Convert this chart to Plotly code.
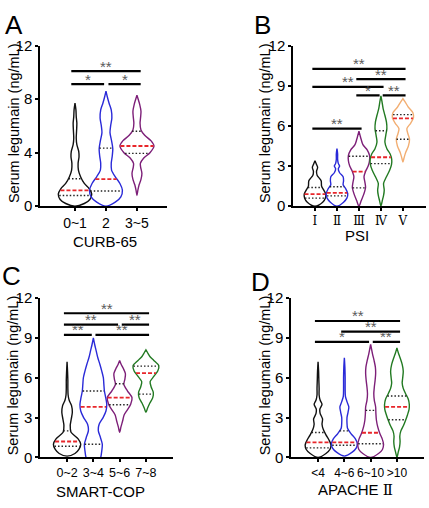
import numpy as np
import plotly.graph_objects as go

# ---- Panel A: CURB-65 ----
a_groups = ["0~1", "2", "3~5"]
a_colors = ["#111111", "#2a2ad8", "#7d1f78"]
a_y = [
    [0, 0.2, 0.5, 0.9, 1.3, 1.7, 2.2, 2.7, 3.2, 3.7, 4.1, 4.6, 5.1, 5.6, 6.2, 6.7, 7.2, 7.7],
    [0, 0.3, 0.7, 1.2, 1.7, 2.2, 2.7, 3.2, 3.7, 4.3, 4.9, 5.5, 6.0, 6.6, 7.2, 7.7, 8.2, 8.6],
    [0.8, 1.2, 1.6, 2.0, 2.45, 2.9, 3.2, 3.6, 4.0, 4.5, 4.9, 5.3, 5.7, 6.2, 6.7, 7.1, 7.6, 8.0, 8.3],
]
a_w = [
    [0, 0.3, 0.48, 0.54, 0.46, 0.3, 0.18, 0.11, 0.1, 0.13, 0.12, 0.06, 0.04, 0.05, 0.06, 0.04, 0.03, 0],
    [0, 0.3, 0.48, 0.53, 0.45, 0.3, 0.18, 0.17, 0.2, 0.22, 0.18, 0.13, 0.15, 0.19, 0.17, 0.1, 0.04, 0],
    [0, 0.03, 0.07, 0.13, 0.16, 0.12, 0.11, 0.22, 0.42, 0.55, 0.45, 0.25, 0.13, 0.1, 0.12, 0.13, 0.09, 0.04, 0],
]
a_q1 = [0.8, 1.13, 3.95]
a_med = [1.18, 2.02, 4.5]
a_q3 = [2.05, 4.34, 5.6]
a_sig = [(0, 1, 9.13, "*"), (1, 2, 9.13, "*"), (0, 2, 10.1, "**")]

# ---- Panel B: PSI ----
b_groups = ["Ⅰ", "Ⅱ", "Ⅲ", "Ⅳ", "Ⅴ"]
b_colors = ["#111111", "#2a2ad8", "#7d1f78", "#227a22", "#f2ae72"]
b_y = [
    [0, 0.3, 0.6, 0.9, 1.2, 1.5, 1.9, 2.3, 2.6, 2.9, 3.15, 3.4],
    [0, 0.3, 0.6, 0.95, 1.3, 1.6, 1.9, 2.2, 2.5, 2.8, 3.0, 3.2, 3.5, 3.9, 4.3],
    [0, 0.4, 0.9, 1.4, 1.8, 2.2, 2.6, 3.0, 3.4, 3.8, 4.2, 4.6, 5.0, 5.3, 5.6],
    [0, 0.4, 0.8, 1.2, 1.7, 2.2, 2.7, 3.1, 3.5, 3.9, 4.3, 4.8, 5.3, 5.8, 6.3, 6.8, 7.3, 7.8, 8.25],
    [3.3, 3.6, 4.0, 4.5, 5.0, 5.4, 5.8, 6.2, 6.6, 7.0, 7.4, 7.8, 8.05],
]
b_w = [
    [0, 0.35, 0.47, 0.49, 0.4, 0.3, 0.28, 0.1, 0.07, 0.12, 0.06, 0],
    [0, 0.3, 0.45, 0.49, 0.4, 0.28, 0.3, 0.28, 0.12, 0.06, 0.12, 0.06, 0.03, 0.03, 0],
    [0, 0.1, 0.22, 0.3, 0.27, 0.23, 0.3, 0.42, 0.48, 0.48, 0.38, 0.18, 0.1, 0.05, 0],
    [0, 0.06, 0.12, 0.15, 0.12, 0.25, 0.4, 0.48, 0.49, 0.42, 0.27, 0.18, 0.22, 0.27, 0.25, 0.18, 0.1, 0.05, 0],
    [0, 0.05, 0.12, 0.25, 0.3, 0.23, 0.18, 0.35, 0.48, 0.45, 0.25, 0.1, 0],
]
b_q1 = [0.6, 0.77, 1.37, 3.18, 5.0]
b_med = [0.9, 1.0, 2.58, 3.66, 6.56]
b_q3 = [1.4, 1.45, 3.73, 5.64, 6.85]
b_sig = [(0, 4, 10.27, "**"), (2, 4, 9.5, "**"), (0, 3, 8.93, "**"),
         (2, 3, 8.29, "*"), (3, 4, 8.29, "**"), (0, 2, 5.8, "**")]

# ---- Panel C: SMART-COP ----
c_groups = ["0~2", "3~4", "5~6", "7~8"]
c_colors = ["#111111", "#2a2ad8", "#7d1f78", "#227a22"]
c_y = [
    [0.1, 0.3, 0.6, 1.0, 1.4, 1.9, 2.4, 2.9, 3.4, 3.9, 4.3, 4.7, 5.2, 5.8, 6.4, 7.2],
    [-0.5, 0, 0.5, 1.0, 1.5, 2.0, 2.5, 3.0, 3.5, 4.0, 4.5, 5.0, 5.5, 6.0, 6.5, 7.0, 7.5, 8.0, 8.5, 9.0],
    [1.9, 2.3, 2.8, 3.2, 3.6, 4.0, 4.5, 5.0, 5.5, 5.9, 6.3, 6.7, 7.0, 7.3],
    [3.4, 3.7, 4.1, 4.5, 4.9, 5.3, 5.7, 6.1, 6.5, 6.9, 7.3, 7.6, 7.9, 8.1],
]
c_w = [
    [0, 0.3, 0.45, 0.52, 0.42, 0.15, 0.12, 0.16, 0.2, 0.17, 0.08, 0.04, 0.03, 0.03, 0.02, 0],
    [0.2, 0.28, 0.32, 0.34, 0.27, 0.19, 0.22, 0.37, 0.48, 0.51, 0.47, 0.42, 0.4, 0.38, 0.32, 0.25, 0.17, 0.11, 0.05, 0],
    [0, 0.05, 0.12, 0.17, 0.3, 0.42, 0.47, 0.3, 0.16, 0.2, 0.22, 0.14, 0.06, 0],
    [0, 0.06, 0.15, 0.26, 0.28, 0.2, 0.16, 0.3, 0.45, 0.49, 0.3, 0.15, 0.06, 0],
]
c_q1 = [0.84, 1.0, 3.97, 4.77]
c_med = [1.2, 3.8, 4.5, 6.34]
c_q3 = [2.0, 5.0, 5.55, 6.87]
c_sig = [(0, 3, 10.85, "**"), (0, 2, 10.0, "**"), (2, 3, 10.0, "**"),
         (0, 1, 9.23, "**"), (1, 3, 9.23, "**")]

# ---- Panel D: APACHE II ----
d_groups = ["&lt;4", "4~6", "6~10", "&gt;10"]
d_colors = ["#111111", "#2a2ad8", "#7d1f78", "#227a22"]
d_y = [
    [0, 0.3, 0.6, 0.95, 1.3, 1.7, 2.1, 2.5, 2.9, 3.3, 3.65, 4.0, 4.3, 4.7, 5.2, 5.8, 6.5, 7.2],
    [0.1, 0.4, 0.7, 1.05, 1.4, 1.8, 2.2, 2.6, 3.0, 3.4, 3.8, 4.2, 4.6, 5.2, 6.0, 6.8, 7.5],
    [0, 0.3, 0.6, 1.0, 1.4, 1.8, 2.3, 2.8, 3.3, 3.8, 4.3, 4.8, 5.3, 5.8, 6.3, 6.8, 7.3, 7.8, 8.2, 8.5],
    [0, 0.4, 0.8, 1.2, 1.6, 2.0, 2.4, 2.8, 3.2, 3.6, 4.0, 4.4, 4.8, 5.2, 5.6, 6.0, 6.5, 7.0, 7.5, 7.9, 8.25],
]
d_w = [
    [0, 0.3, 0.45, 0.49, 0.42, 0.3, 0.2, 0.15, 0.17, 0.08, 0.07, 0.15, 0.08, 0.04, 0.04, 0.03, 0.02, 0],
    [0, 0.3, 0.45, 0.49, 0.42, 0.25, 0.12, 0.1, 0.1, 0.14, 0.17, 0.1, 0.04, 0.03, 0.03, 0.02, 0],
    [0, 0.3, 0.45, 0.49, 0.44, 0.35, 0.27, 0.22, 0.2, 0.19, 0.14, 0.12, 0.14, 0.17, 0.19, 0.18, 0.13, 0.07, 0.03, 0],
    [0, 0.05, 0.1, 0.12, 0.11, 0.15, 0.25, 0.33, 0.4, 0.46, 0.47, 0.43, 0.33, 0.24, 0.2, 0.22, 0.24, 0.2, 0.12, 0.05, 0],
]
d_q1 = [0.72, 0.92, 1.03, 2.84]
d_med = [1.13, 1.13, 1.86, 3.8]
d_q3 = [1.88, 2.0, 3.54, 4.63]
d_sig = [(0, 3, 10.27, "**"), (1, 3, 9.47, "**"), (0, 2, 8.7, "*"), (2, 3, 8.7, "**")]

y_title = "Serum legumain (ng/mL)"
FONT = "Liberation Sans, Arial, sans-serif"

panels = [
    dict(letter="A", title="CURB-65", groups=a_groups, colors=a_colors, ys=a_y, ws=a_w,
         q1=a_q1, med=a_med, q3=a_q3, sig=a_sig, yticks=[0, 4, 8, 12],
         xdom=[40, 167], ydom=[38, 204], xr=[-1.13, 2.97], tickfont=dict(size=14, family=FONT),
         letter_xy=(13.5, 16.5), ytitle_xy=(14, 118), xtitle_xy=(105, 241)),
    dict(letter="B", title="PSI", groups=b_groups, colors=b_colors, ys=b_y, ws=b_w,
         q1=b_q1, med=b_med, q3=b_q3, sig=b_sig, yticks=[0, 3, 6, 9, 12],
         xdom=[293, 426], ydom=[38, 204], xr=[-1.0, 5.05], tickfont=dict(size=12, family="DejaVu Serif, serif"),
         letter_xy=(262, 17), ytitle_xy=(265, 118), xtitle_xy=(357, 234)),
    dict(letter="C", title="SMART-COP", groups=c_groups, colors=c_colors, ys=c_y, ws=c_w,
         q1=c_q1, med=c_med, q3=c_q3, sig=c_sig, yticks=[0, 3, 6, 9, 12],
         xdom=[40, 173], ydom=[299, 464], xr=[-1.03, 4.03], tickfont=dict(size=12.5, family=FONT),
         letter_xy=(11.5, 276), ytitle_xy=(13, 379), xtitle_xy=(100, 499)),
    dict(letter="D", title="APACHE <span style='font-family:DejaVu Serif'>Ⅱ</span>", groups=d_groups,
         colors=d_colors, ys=d_y, ws=d_w, q1=d_q1, med=d_med, q3=d_q3, sig=d_sig,
         yticks=[0, 3, 6, 9, 12], xdom=[291, 424], ydom=[299, 464], xr=[-1.03, 4.03],
         tickfont=dict(size=12, family=FONT),
         letter_xy=(260, 282), ytitle_xy=(265, 379), xtitle_xy=(355, 498)),
]

W, H = 429, 508
fig = go.Figure()
annotations = []


def paper_note(x, y, text, size, angle=0):
    return dict(x=x / W, y=1 - y / H, xref="paper", yref="paper", text=text,
                xanchor="center", yanchor="middle", textangle=angle, showarrow=False,
                font=dict(size=size, family=FONT, color="#000000"))


for k, p in enumerate(panels):
    sfx = "" if k == 0 else str(k + 1)
    xa, ya = "x" + sfx, "y" + sfx

    # violins
    for i, color in enumerate(p["colors"]):
        ys = np.array(p["ys"][i], dtype=float)
        ws = np.array(p["ws"][i], dtype=float)
        fig.add_trace(go.Scatter(
            x=np.concatenate([i + ws, (i - ws)[::-1]]),
            y=np.concatenate([ys, ys[::-1]]),
            mode="lines", line=dict(color=color, width=1.4, shape="spline", smoothing=0.8),
            xaxis=xa, yaxis=ya, showlegend=False, hoverinfo="skip",
        ))
        # quartiles dotted, median dashed red
        for q, dash, qcol, lw in [(p["q1"][i], "1.5px,2px", "#222222", 1.4),
                                  (p["q3"][i], "1.5px,2px", "#222222", 1.4),
                                  (p["med"][i], "4px,2px", "#e8262a", 1.8)]:
            half = np.interp(q, ys, ws) * 0.97
            fig.add_trace(go.Scatter(
                x=[i - half, i + half], y=[q, q], mode="lines",
                line=dict(color=qcol, width=lw, dash=dash),
                xaxis=xa, yaxis=ya, showlegend=False, hoverinfo="skip",
            ))

    # significance bars
    for (i, j, lev, lab) in p["sig"]:
        left_shared = any(s[1] == i and s[2] == lev for s in p["sig"])
        right_shared = any(s[0] == j and s[2] == lev for s in p["sig"])
        x0 = i + 0.08 if left_shared else i - 0.12
        x1 = j - 0.06 if right_shared else j + 0.12
        fig.add_trace(go.Scatter(
            x=[x0, x1], y=[lev, lev], mode="lines",
            line=dict(color="#000000", width=2.2),
            xaxis=xa, yaxis=ya, showlegend=False, hoverinfo="skip",
        ))
        annotations.append(dict(
            x=(x0 + x1) / 2, y=lev, xref=xa, yref=ya, text=lab, showarrow=False,
            xanchor="center", yanchor="middle", yshift=5,
            font=dict(size=15, color="#5a5a5a", family=FONT),
        ))

    x0p, x1p = p["xdom"]
    ytop, ybot = p["ydom"]
    axis_common = dict(showline=True, linecolor="#000000", linewidth=1.5, ticks="outside",
                       ticklen=3, tickwidth=1.5, tickcolor="#000000", showgrid=False,
                       zeroline=False)
    fig.update_layout(**{
        "xaxis" + sfx: dict(domain=[x0p / W, x1p / W], anchor=ya, range=p["xr"],
                            tickvals=list(range(len(p["groups"]))), ticktext=p["groups"],
                            tickangle=0,
                            tickfont=dict(color="#000000", **p["tickfont"]), **axis_common),
        "yaxis" + sfx: dict(domain=[1 - ybot / H, 1 - ytop / H], anchor=xa, range=[0, 12],
                            tickvals=p["yticks"], tickfont=dict(size=15, family=FONT, color="#000000"),
                            **axis_common),
    })

    annotations.append(paper_note(*p["letter_xy"], p["letter"], 26))
    annotations.append(paper_note(*p["ytitle_xy"], y_title, 14.5, angle=-90))
    annotations.append(paper_note(*p["xtitle_xy"], p["title"], 15))

fig.update_layout(
    width=W, height=H, margin=dict(l=0, r=0, t=0, b=0),
    paper_bgcolor="#ffffff", plot_bgcolor="#ffffff",
    annotations=annotations, showlegend=False,
)

fig.write_html("out.html", config={"displayModeBar": False},
               post_script="document.body.style.margin='0';document.body.style.overflow='hidden';")
